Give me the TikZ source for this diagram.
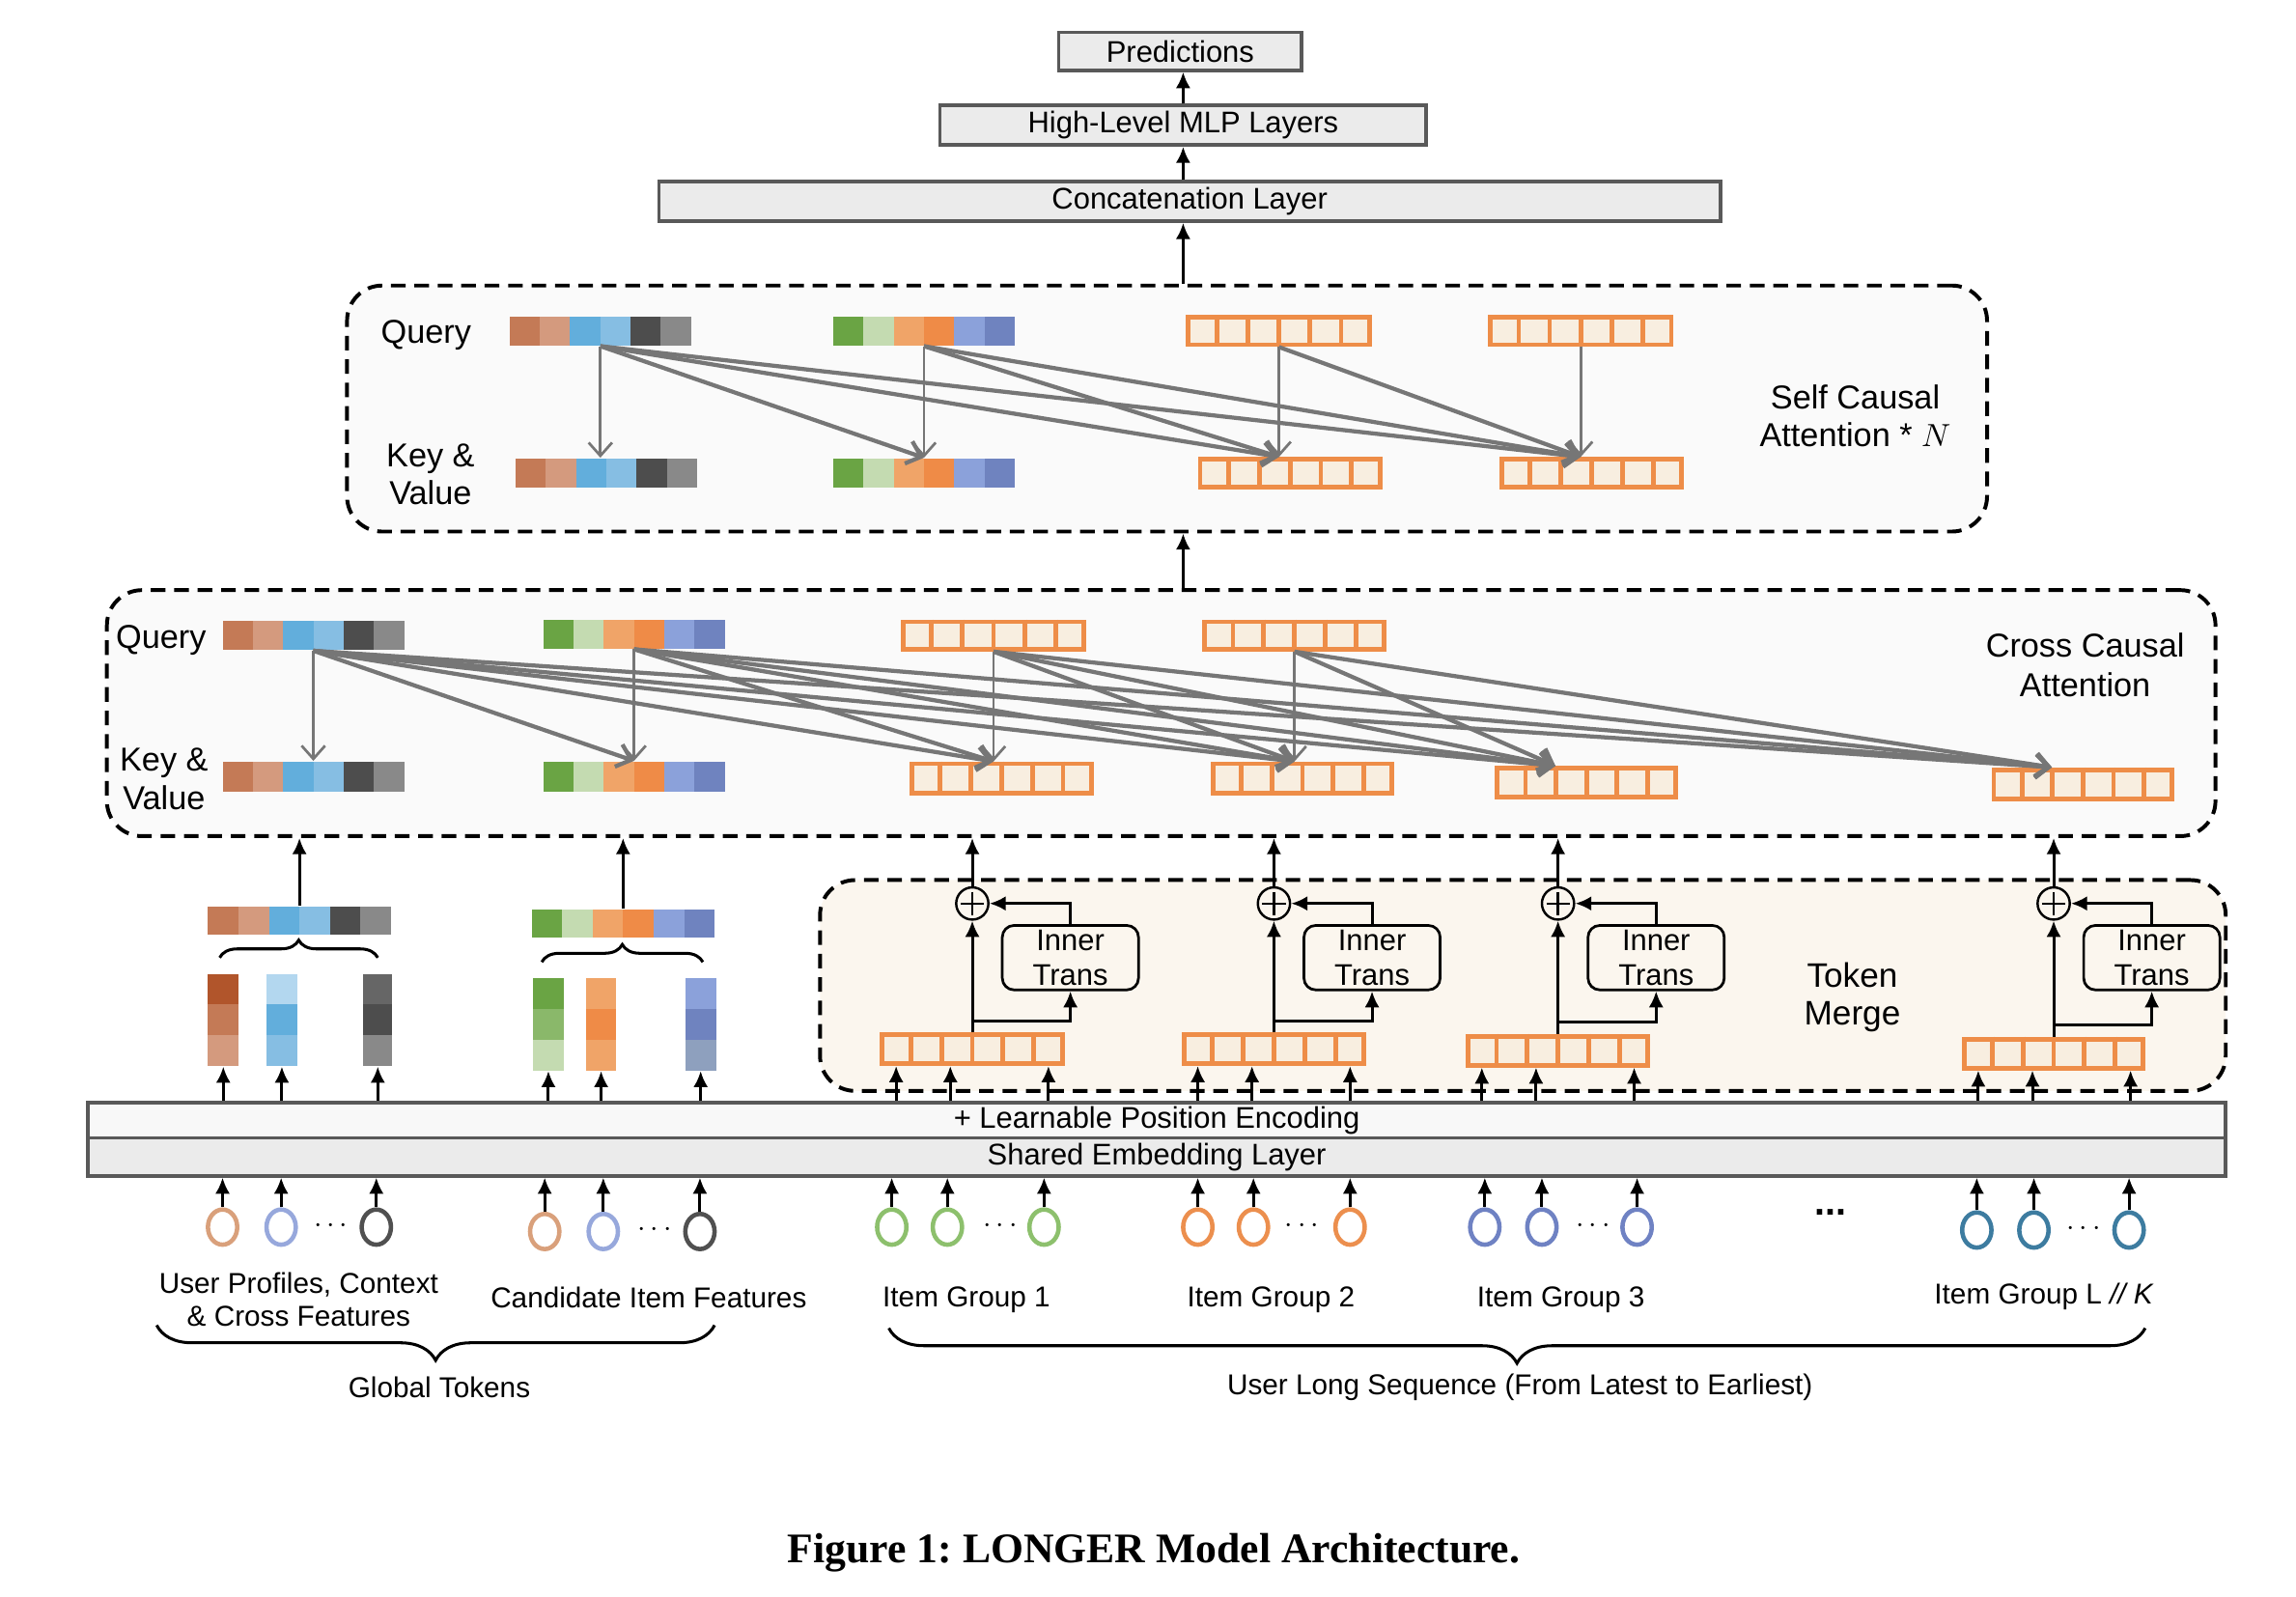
\documentclass[tikz,border=0pt]{standalone}
\usepackage{fontspec}
\setmainfont{Liberation Sans}
\newfontfamily\capfont{Liberation Serif}
\usetikzlibrary{arrows.meta, fit, calc, decorations.pathreplacing, shapes.geometric}
\definecolor{cA1}{HTML}{C47A56}
\definecolor{cA2}{HTML}{D49A7E}
\definecolor{cA3}{HTML}{62AEDC}
\definecolor{cA4}{HTML}{86BEE3}
\definecolor{cA5}{HTML}{4D4D4D}
\definecolor{cA6}{HTML}{898989}
\definecolor{cAd}{HTML}{B1552B}
\definecolor{cAl}{HTML}{B3D7EF}
\definecolor{cGm}{HTML}{666666}
\definecolor{cB1}{HTML}{6AA444}
\definecolor{cB2}{HTML}{C4DBB1}
\definecolor{cB3}{HTML}{F0A468}
\definecolor{cB4}{HTML}{EF8B47}
\definecolor{cB5}{HTML}{8BA1DA}
\definecolor{cB6}{HTML}{6F83BF}
\definecolor{cBm}{HTML}{8AB86A}
\definecolor{cBg}{HTML}{8EA0BE}
\definecolor{vecor}{HTML}{EE8D48}
\definecolor{cellbg}{HTML}{F8EEE0}
\definecolor{attgray}{HTML}{767676}
\definecolor{attbg}{HTML}{FAFAFA}
\definecolor{tmbg}{HTML}{FBF6EE}
\definecolor{boxfill}{HTML}{EBEBEB}
\definecolor{pefill}{HTML}{F8F8F8}
\definecolor{boxborder}{HTML}{595959}
\definecolor{ctan}{HTML}{D9A07B}
\definecolor{cblue}{HTML}{97A8DC}
\definecolor{cdark}{HTML}{505050}
\definecolor{cgreen}{HTML}{8DC06D}
\definecolor{corange}{HTML}{EC8F4E}
\definecolor{cpurple}{HTML}{6F82C3}
\definecolor{cteal}{HTML}{3D7CA0}

\newcommand{\hvec}[6]{%
  \foreach \cc [count=\ii] in {#6}{\fill[\cc] ({#2+(\ii-1)*(#4-#2)/6},#3) rectangle ({#2+\ii*(#4-#2)/6},#5);}
  \node[inner sep=0, fit={(#2,#3) (#4,#5)}] (#1) {};}
\newcommand{\vvec}[6]{%
  \foreach \cc [count=\ii] in {#6}{\fill[\cc] (#2,{#3+(\ii-1)*(#5-#3)/3}) rectangle (#4,{#3+\ii*(#5-#3)/3});}
  \node[inner sep=0, fit={(#2,#3) (#4,#5)}] (#1) {};}
\newcommand{\ovec}[5]{%
  \node[inner sep=0, fit={(#2+1.6,#3+1.6) (#4-1.6,#5-1.6)}, fill=cellbg, draw=vecor, line width=1.6pt] (#1) {};
  \foreach \ii in {1,...,5}{\draw[vecor, line width=1.6pt] ({#2+\ii*(#4-#2)/6},#3) -- ({#2+\ii*(#4-#2)/6},#5);}}

\begin{document}
\frenchspacing
\begin{tikzpicture}[x=0.5pt, y=-0.5pt,
  font=\fontsize{10.2}{12}\selectfont,
  blk/.style={-{Latex[length=5.5pt,width=5pt]}, line width=1pt, black},
  att/.style={-{Straight Barb[length=4.5pt,width=8pt]}, line width=1.4pt, attgray},
  attv/.style={att, line width=0.9pt},
  graybox/.style={draw=boxborder, line width=1.2pt, fill=boxfill, inner sep=0},
  dashbox/.style={draw=black, line width=1.3pt, dash pattern=on 5pt off 3pt, rounded corners=12pt, inner sep=0},
  itbox/.style={draw=black, line width=0.9pt, rounded corners=4pt, inner sep=0, align=center, minimum width=46.5pt, minimum height=22pt},
  oplus/.style={circle, draw=black, line width=0.8pt, minimum size=11pt, inner sep=0},
  tok/.style={ellipse, line width=1.5pt, minimum width=10pt, minimum height=12pt, inner sep=0},
  lbl/.style={inner sep=0, align=center},
  big/.style={lbl, font=\fontsize{11.3}{13}\selectfont},
  small/.style={lbl, font=\fontsize{9.8}{11.5}\selectfont, yshift=-1.2pt},
  bru/.style={decorate, decoration={brace, amplitude=6pt}, line width=1pt},
  brd/.style={decorate, decoration={brace, amplitude=12pt, mirror}, line width=1pt},
]
\useasboundingbox (0,0) rectangle (1568,1090.6);
\fill[white] (0,0) rectangle (1568,1090.6);

% ---------- top boxes
\node[graybox, fit={(723,22) (889,48)}] (pred) {};
\node[lbl] (predT) at (pred.center) {Predictions};
\node[graybox, fit={(642,72) (974,99)}] (mlp) {};
\node[lbl] (mlpT) at (mlp.center) {High-Level MLP Layers};
\node[graybox, fit={(450,124) (1175,151)}] (concat) {};
\node[lbl] (concatT) at (concat.center) {Concatenation Layer};
\coordinate (mx) at (808,0);

% ---------- self causal attention
\node[dashbox, fill=attbg, fit={(237,195) (1357,363)}] (self) {};
\node[big] (sQ) at (291,229) {Query};
\node[big] (sKV) at (294,324) {Key \&\\Value};
\node[big] (sT) at (1267,284) {Self Causal\\Attention * $N$};
\hvec{sqA}{348}{216}{472}{236}{cA1,cA2,cA3,cA4,cA5,cA6}
\hvec{sqB}{569}{216}{693}{236}{cB1,cB2,cB3,cB4,cB5,cB6}
\ovec{sqC}{810}{215}{937}{237}
\ovec{sqD}{1016}{215}{1143}{237}
\hvec{skA}{352}{313}{476}{333}{cA1,cA2,cA3,cA4,cA5,cA6}
\hvec{skB}{569}{313}{693}{333}{cB1,cB2,cB3,cB4,cB5,cB6}
\ovec{skC}{818}{312}{944}{334}
\ovec{skD}{1024}{312}{1150}{334}
\coordinate (skAp) at (sqA.south |- skA.north);
\coordinate (skBp) at (sqB.south |- skB.north);
\coordinate (skCp) at (sqC.south |- skC.north);
\coordinate (skDp) at (sqD.south |- skD.north);
\draw[attv] (sqA.south) -- (skAp);
\foreach \k in {skBp,skCp,skDp} \draw[att] (sqA.south) -- (\k);
\draw[attv] (sqB.south) -- (skBp);
\foreach \k in {skCp,skDp} \draw[att] (sqB.south) -- (\k);
\draw[attv] (sqC.south) -- (skCp);
\draw[att] (sqC.south) -- (skDp);
\draw[attv] (sqD.south) -- (skDp);

% ---------- cross causal attention
\node[dashbox, fill=attbg, fit={(73,403) (1513,571)}] (cross) {};
\node[big] (cQ) at (110,437) {Query};
\node[big] (cKV) at (112,532) {Key \&\\Value};
\node[big, font=\fontsize{11.3}{13.5}\selectfont] (cT) at (1424,454) {Cross Causal\\Attention};
\hvec{cqA}{152}{424}{276}{444}{cA1,cA2,cA3,cA4,cA5,cA6}
\hvec{cqB}{371}{423}{495}{443}{cB1,cB2,cB3,cB4,cB5,cB6}
\ovec{cqC}{615}{423}{742}{445}
\ovec{cqD}{821}{423}{947}{445}
\hvec{ckA}{152}{520}{276}{541}{cA1,cA2,cA3,cA4,cA5,cA6}
\hvec{ckB}{371}{520}{495}{541}{cB1,cB2,cB3,cB4,cB5,cB6}
\ovec{ckC}{621}{520}{747}{543}
\ovec{ckD}{827}{520}{952}{543}
\ovec{ckE}{1021}{523}{1146}{546}
\ovec{ckF}{1360}{524}{1485}{547}
\coordinate (ckAp) at (cqA.south |- ckA.north);
\coordinate (ckBp) at (cqB.south |- ckB.north);
\coordinate (ckCp) at (cqC.south |- ckC.north);
\coordinate (ckDp) at (cqD.south |- ckD.north);
\coordinate (ckEp) at ($(ckE.north west)!0.33!(ckE.north east)$);
\coordinate (ckFp) at ($(ckF.north west)!0.33!(ckF.north east)$);
\draw[attv] (cqA.south) -- (ckAp);
\foreach \k in {ckBp,ckCp,ckDp,ckEp,ckFp} \draw[att] (cqA.south) -- (\k);
\draw[attv] (cqB.south) -- (ckBp);
\foreach \k in {ckCp,ckDp,ckEp,ckFp} \draw[att] (cqB.south) -- (\k);
\draw[attv] (cqC.south) -- (ckCp);
\foreach \k in {ckDp,ckEp,ckFp} \draw[att] (cqC.south) -- (\k);
\draw[attv] (cqD.south) -- (ckDp);
\foreach \k in {ckEp,ckFp} \draw[att] (cqD.south) -- (\k);

% ---------- vertical flow at the top
\draw[blk] (mlp.north -| mx) -- (pred.south -| mx);
\draw[blk] (concat.north -| mx) -- (mlp.south -| mx);
\draw[blk] (self.north -| mx) -- (concat.south -| mx);
\draw[blk] (cross.north -| mx) -- (self.south -| mx);

% ---------- global tokens
\hvec{gA}{142}{619}{267}{638}{cA1,cA2,cA3,cA4,cA5,cA6}
\hvec{gB}{363}{621}{488}{640}{cB1,cB2,cB3,cB4,cB5,cB6}
\draw[blk] (gA.north) -- (gA.north |- cross.south);
\draw[blk] (gB.north) -- (gB.north |- cross.south);
\draw[bru] (150,654) -- (258,654);
\draw[bru] (370,657) -- (480,657);
\vvec{uA1}{142}{665}{163}{728}{cAd,cA1,cA2}
\vvec{uA2}{182}{665}{203}{728}{cAl,cA3,cA4}
\vvec{uA3}{248}{665}{268}{728}{cGm,cA5,cA6}
\vvec{uB1}{364}{668}{385}{731}{cB1,cBm,cB2}
\vvec{uB2}{400}{668}{421}{731}{cB3,cB4,cB3}
\vvec{uB3}{468}{668}{489}{731}{cB5,cB6,cBg}

% ---------- token merge
\node[dashbox, fill=tmbg, fit={(560,601) (1520,745)}] (tm) {};
\node[big, font=\fontsize{11.6}{13}\selectfont] (tmT) at (1265,681) {Token\\Merge};
\ovec{v1}{601}{705}{727}{728}
\ovec{v2}{807}{705}{933}{728}
\ovec{v3}{1001}{706}{1127}{729}
\ovec{v4}{1340}{708}{1465}{731}
\foreach \v/\n in {v1/1,v2/2,v3/3,v4/4}{
  \node[oplus] (p\n) at (\v.north |- 0,617) {};
  \draw[line width=0.8pt] ($(p\n.center)+(-8,0)$) -- ($(p\n.center)+(8,0)$) ($(p\n.center)+(0,-8)$) -- ($(p\n.center)+(0,8)$);
  \node[itbox] (t\n) at ($(\v.north |- 0,654)+(67,0)$) {Inner\\Trans};
  \draw[blk] (\v.north) -- (p\n.south);
  \draw[blk] ($(\v.north)+(0,-8)$) -| (t\n.south);
  \draw[blk] (t\n.north) |- (p\n.east);
  \draw[blk] (p\n.north) -- (p\n.north |- cross.south);
}

% ---------- bars
\node[graybox, fill=pefill, fit={(60,753) (1520,777)}] (pe) {};
\node[lbl] (peT) at (pe.center) {+ Learnable Position Encoding};
\node[graybox, fit={(60,777) (1520,803)}] (emb) {};
\node[lbl] (embT) at (emb.center) {Shared Embedding Layer};

\foreach \u in {uA1,uA2,uA3,uB1,uB2,uB3} \draw[blk] (\u.south |- pe.north) -- (\u.south);
\foreach \v in {v1,v2,v3,v4}{
  \foreach \o in {11,48,115}{
    \path (\v.south west) ++(\o,0) coordinate (tmp);
    \draw[blk] (tmp |- pe.north) -- (tmp);
  }
}

% ---------- input tokens
\foreach \nm/\x/\y/\c in {a1/152/838/ctan, a2/192/838/cblue, a3/257/838/cdark,
   b1/372/841/ctan, b2/412/841/cblue, b3/478/841/cdark,
   g11/609/838/cgreen, g12/647/838/cgreen, g13/713/838/cgreen,
   g21/818/838/corange, g22/856/838/corange, g23/922/838/corange,
   g31/1014/838/cpurple, g32/1053/838/cpurple, g33/1118/838/cpurple,
   g41/1350/840/cteal, g42/1389/840/cteal, g43/1454/840/cteal}{
  \node[tok, draw=\c] (\nm) at (\x,\y) {};
  \draw[blk] (\nm.north) -- (\nm.north |- emb.south);
}
\foreach \nm/\x/\y in {da/226/837, db/447/840, d1/683/837, d2/889/837, d3/1088/837, d4/1423/839}
  \node[lbl] (\nm) at (\x,\y) {$\cdots$};
\node[lbl, font=\fontsize{13}{14}\selectfont\bfseries] (dbig) at (1250,828) {...};

% ---------- labels
\node[small] (lu) at (204,885) {User Profiles, Context\\\& Cross Features};
\node[small] (lc) at (443,884) {Candidate Item Features};
\node[small] (l1) at (660,885) {Item Group 1};
\node[small] (l2) at (868,885) {Item Group 2};
\node[small] (l3) at (1066,885) {Item Group 3};
\node[small] (l4) at (1396,883) {Item Group L \textit{// K}};
\draw[brd] (107,905) -- (488,905);
\draw[brd] (607,907) -- (1465,907);
\node[small] (gt) at (300,945) {Global Tokens};
\node[small] (ls) at (1038,945) {User Long Sequence (From Latest to Earliest)};

% ---------- caption
\node[lbl, font=\capfont\bfseries\fontsize{14.4}{17}\selectfont, yshift=-1.2pt] (cap) at (788,1058) {Figure 1: LONGER Model Architecture.};
\end{tikzpicture}
\end{document}
